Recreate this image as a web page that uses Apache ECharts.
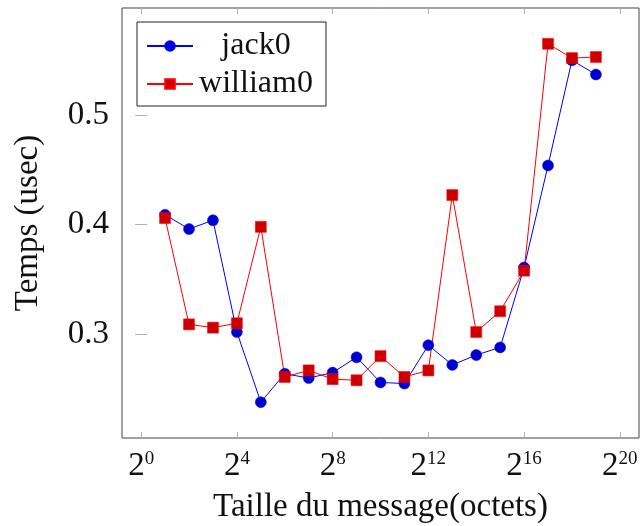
<!DOCTYPE html>
<html>
<head>
<meta charset="utf-8">
<script src="https://cdn.jsdelivr.net/npm/echarts@6/dist/echarts.min.js"></script>
<style>
  html, body { margin: 0; padding: 0; background: #fff; }
  #chart { width: 641px; height: 526px; }
</style>
</head>
<body>
<div id="chart"></div>
<script>
// exposants de 2 (taille du message = 2^n octets)
const exponents = [1, 2, 3, 4, 5, 6, 7, 8, 9, 10, 11, 12, 13, 14, 15, 16, 17, 18, 19];
const jack0 = [0.409, 0.396, 0.404, 0.302, 0.238, 0.264, 0.260, 0.265, 0.279, 0.256, 0.255, 0.290, 0.272, 0.281, 0.288, 0.361, 0.454, 0.550, 0.537];
const william0 = [0.406, 0.309, 0.306, 0.310, 0.398, 0.261, 0.267, 0.259, 0.258, 0.280, 0.261, 0.267, 0.427, 0.302, 0.321, 0.358, 0.565, 0.552, 0.553];
const xTicks = [0, 4, 8, 12, 16, 20];
const yTicks = [0.3, 0.4, 0.5];

const font = '"Liberation Serif", "DejaVu Serif", serif';
const tickStyle = { show: true, inside: true, length: 6, lineStyle: { color: '#b0b0b0', width: 1 } };
const legendText = { width: 116, align: 'center', fontFamily: font, fontSize: 32, lineHeight: 32, color: '#111' };

const toPoints = (vals) => vals.map((v, i) => [exponents[i], v]);

let option = {
    animation: false,
    backgroundColor: '#fff',
    grid: {
        left: 122,
        right: 2,
        top: 8,
        bottom: 88,
        outerBoundsMode: 'none',
        containLabel: false,
        show: true,
        borderColor: '#444',
        borderWidth: 1
    },
    legend: {
        left: 137,
        top: 22,
        orient: 'vertical',
        backgroundColor: '#fff',
        borderColor: '#222',
        borderWidth: 1,
        padding: [8, 12, 6, 9],
        itemGap: 6,
        itemWidth: 46,
        itemHeight: 12,
        textStyle: { fontFamily: font, fontSize: 32, color: '#111' },
        formatter: (name) => '{c|' + name + '}',
        data: [
            { name: 'jack0', textStyle: { rich: { c: legendText } } },
            { name: 'william0', textStyle: { rich: { c: legendText } } }
        ]
    },
    xAxis: [
        {
            type: 'value',
            min: -0.8,
            max: 20.8,
            name: 'Taille du message(octets)',
            nameLocation: 'middle',
            nameGap: 53,
            nameTextStyle: { fontFamily: font, fontSize: 33, color: '#111' },
            axisLine: { show: false },
            splitLine: { show: false },
            axisTick: Object.assign({ customValues: xTicks }, tickStyle),
            axisLabel: {
                customValues: xTicks,
                margin: 12,
                formatter: (v) => '{b|2}{s|' + v + '}',
                rich: {
                    b: { fontFamily: font, fontSize: 33, color: '#111', verticalAlign: 'bottom', lineHeight: 33 },
                    s: { fontFamily: font, fontSize: 19, color: '#111', verticalAlign: 'top', lineHeight: 17 }
                }
            }
        },
        {
            type: 'value',
            position: 'top',
            min: -0.8,
            max: 20.8,
            axisLine: { show: false },
            splitLine: { show: false },
            axisTick: Object.assign({ customValues: xTicks }, tickStyle),
            axisLabel: { show: false }
        }
    ],
    yAxis: [
        {
            type: 'value',
            min: 0.2053,
            max: 0.5977,
            name: 'Temps (usec)',
            nameLocation: 'middle',
            nameGap: 77,
            nameRotate: 90,
            nameTextStyle: { fontFamily: font, fontSize: 33, color: '#111' },
            axisLine: { show: false },
            splitLine: { show: false },
            axisTick: Object.assign({ customValues: yTicks }, tickStyle),
            axisLabel: {
                customValues: yTicks,
                margin: 13,
                fontFamily: font,
                fontSize: 33,
                color: '#111',
                formatter: (v) => v.toFixed(1)
            }
        },
        {
            type: 'value',
            position: 'right',
            min: 0.2053,
            max: 0.5977,
            axisLine: { show: false },
            splitLine: { show: false },
            axisTick: Object.assign({ customValues: yTicks }, tickStyle),
            axisLabel: { show: false }
        }
    ],
    series: [
        {
            name: 'jack0',
            type: 'line',
            data: toPoints(jack0),
            symbol: 'circle',
            symbolSize: 11,
            lineStyle: { color: '#0000ff', width: 1 },
            itemStyle: { color: '#0000cc', borderColor: '#0000ff', borderWidth: 0.5 }
        },
        {
            name: 'william0',
            type: 'line',
            data: toPoints(william0),
            symbol: 'rect',
            symbolSize: 11,
            lineStyle: { color: '#ff0000', width: 1 },
            itemStyle: { color: '#cc0000', borderColor: '#ff0000', borderWidth: 0.5 }
        }
    ]
};

let chart = echarts.init(document.getElementById('chart'));
chart.setOption(option);
</script>
</body>
</html>
